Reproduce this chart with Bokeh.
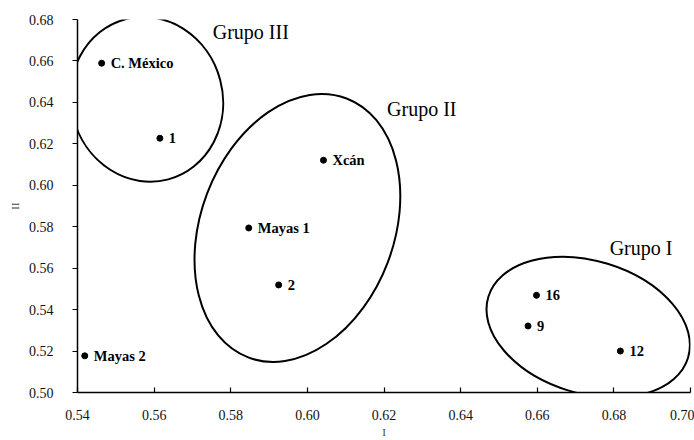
from bokeh.plotting import figure
from bokeh.models import FixedTicker, PrintfTickFormatter, ColumnDataSource, Range1d
from bokeh.core.properties import value
from bokeh.embed import file_html
from bokeh.resources import INLINE

# --- data -------------------------------------------------------------
names = ["C. México", "1", "Xcán", "Mayas 1", "2", "Mayas 2", "16", "9", "12"]
dim_I = [0.5463, 0.5615, 0.6042, 0.5847, 0.5925, 0.5419, 0.6598, 0.6576, 0.6817]
dim_II = [0.6589, 0.6227, 0.6121, 0.5794, 0.5519, 0.5177, 0.5469, 0.5321, 0.5200]

groups = ["Grupo I", "Grupo II", "Grupo III"]
group_cx = [0.6733, 0.5974, 0.5581]
group_cy = [0.5315, 0.5794, 0.6415]
group_w = [0.0545, 0.0723, 0.0396]
group_h = [0.0640, 0.0933, 0.0800]
group_angle = [-17.0, 69.2, 15.0]
group_label_x = [0.6789, 0.6208, 0.5753]
group_label_y = [0.5699, 0.6367, 0.6738]

x_ticks = [0.54, 0.56, 0.58, 0.60, 0.62, 0.64, 0.66, 0.68, 0.70]
y_ticks = [0.50, 0.52, 0.54, 0.56, 0.58, 0.60, 0.62, 0.64, 0.66, 0.68]
x_title = "I"
y_title = "II"

# --- figure -------------------------------------------------------------
p = figure(width=694, height=440, output_backend="svg", toolbar_location=None,
           x_range=Range1d(0.54, 0.70), y_range=Range1d(0.50, 0.68),
           min_border_left=77, min_border_right=4, min_border_top=19,
           min_border_bottom=48)
p.outline_line_color = None
p.grid.visible = False
p.background_fill_color = "white"
p.border_fill_color = "white"

serif = "Liberation Serif"

ell = ColumnDataSource(dict(x=group_cx, y=group_cy, w=group_w, h=group_h,
                            a=group_angle))
p.ellipse(x="x", y="y", width="w", height="h", angle="a", angle_units="deg",
          source=ell, fill_color=None, line_color="black", line_width=2)

pts = ColumnDataSource(dict(x=dim_I, y=dim_II, name=names))
p.scatter(x="x", y="y", source=pts, size=6, color="black")
p.text(x="x", y="y", text="name", source=pts, x_offset=9,
       text_baseline="middle", text_align="left",
       text_font=value(serif), text_font_style="bold",
       text_font_size="14.5px", text_color="black")

gl = ColumnDataSource(dict(x=group_label_x, y=group_label_y, t=groups))
p.text(x="x", y="y", text="t", source=gl, text_baseline="middle",
       text_align="left", text_font=value(serif), text_font_size="20px",
       text_color="black")

for ax, ticks, title in ((p.xaxis[0], x_ticks, x_title), (p.yaxis[0], y_ticks, y_title)):
    ax.ticker = FixedTicker(ticks=ticks, minor_ticks=[])
    ax.formatter = PrintfTickFormatter(format="%.2f")
    ax.axis_label = title
    ax.axis_line_color = "black"
    ax.axis_line_width = 1.5
    ax.major_tick_line_color = "black"
    ax.major_tick_line_width = 1.2
    ax.minor_tick_line_color = None
    ax.major_label_text_font = serif
    ax.major_label_text_font_size = "14px"
    ax.major_label_text_color = "#111111"
    ax.axis_label_text_font = serif
    ax.axis_label_text_font_size = "11px"
    ax.axis_label_text_font_style = "normal"

p.xaxis.major_tick_in = 5
p.xaxis.major_tick_out = 0
p.xaxis.major_label_standoff = 17
p.xaxis.axis_label_standoff = 3
p.yaxis.major_tick_in = 0
p.yaxis.major_tick_out = 5
p.yaxis.major_label_standoff = 19
p.yaxis.axis_label_standoff = 5

open("out.html", "w").write(file_html(p, INLINE))
